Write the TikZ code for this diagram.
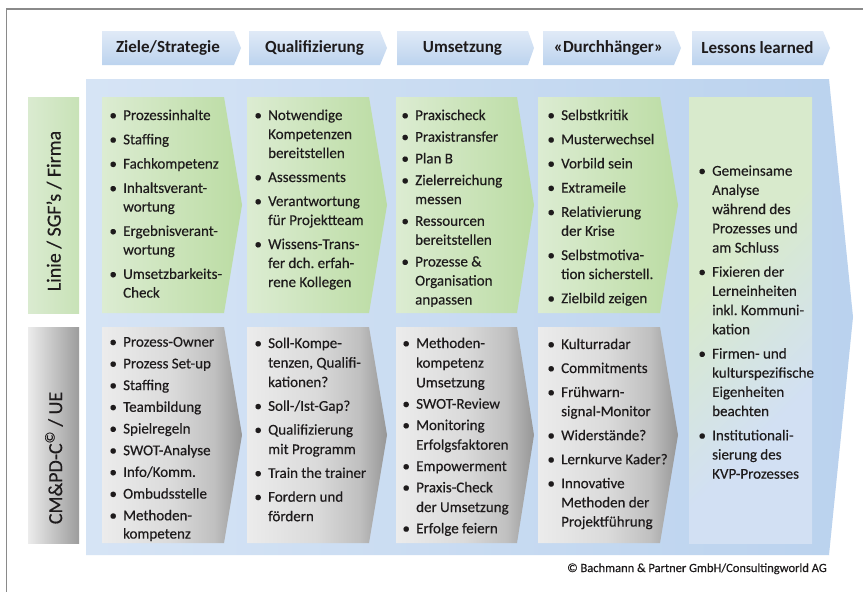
\documentclass[tikz,border=0pt]{standalone}
\usepackage{fontspec}
\setmainfont{Carlito}[UprightFeatures={FakeBold=0.35}]

\definecolor{txt}{RGB}{30,27,28}
\definecolor{frameg}{RGB}{138,138,138}
\definecolor{bgL}{RGB}{214,228,245}
\definecolor{bgR}{RGB}{186,210,238}
\definecolor{tabT}{RGB}{224,234,247}
\definecolor{tabB}{RGB}{188,211,238}
\definecolor{grL}{RGB}{220,236,210}
\definecolor{grR}{RGB}{187,220,163}
\definecolor{glL}{RGB}{218,235,208}
\definecolor{glR}{RGB}{200,226,183}
\definecolor{gyA}{RGB}{236,236,236}
\definecolor{gyB}{RGB}{218,218,218}
\definecolor{gyM}{RGB}{192,192,192}
\definecolor{gyC}{RGB}{150,150,150}
\definecolor{llG}{RGB}{216,234,204}
\definecolor{llB}{RGB}{210,224,243}

% grey boxes: light over most of the width, darkening towards the tip
\pgfdeclarehorizontalshading{grayfade}{100bp}{color(0bp)=(gyA); color(25bp)=(gyA);
  color(50bp)=(gyB); color(65bp)=(gyM); color(75bp)=(gyC); color(100bp)=(gyC)}
% closing column: green fading into light blue
\pgfdeclarehorizontalshading{llfade}{100bp}{color(0bp)=(llG); color(25bp)=(llG);
  color(40bp)=(llG); color(66bp)=(llB); color(100bp)=(llB)}

% one bullet item with hanging indent; \\ breaks the line inside the item
\newcommand{\itm}[1]{\hangindent=13pt\hangafter=1\noindent
  \makebox[13pt][l]{\hspace{3pt}\makebox[0pt]{\textbullet}}%
  \begingroup\let\\\newline#1\endgroup\par}
% chevron box: style, left x, shoulder x, tip x, top y, bottom y
\newcommand{\chev}[6]{\path[#1] (#2,#5) -- (#3,#5) -- (#4,{(#5+#6)/2}) -- (#3,#6) -- (#2,#6) -- cycle;}
% header tab: left x, shoulder x, tip x, node name, text
\newcommand{\tabbox}[5]{\path[tabshape] (#1,31) -- (#2,31) -- (#3,48) -- (#2,65) -- (#1,65) -- cycle;
  \node[hdr] (#4) at ({(#1+#2)/2},48) {#5};}

\frenchspacing
\begin{document}
\begin{tikzpicture}[x=1pt,y=-1pt,
  lst/.style 2 args={inner sep=0pt, anchor=base west, text width=165pt, text=txt,
    execute at begin node={\fontsize{15pt}{#2}\selectfont\setlength{\parskip}{#1}}},
  hdr/.style={font=\fontsize{17pt}{20pt}\selectfont\bfseries, text=txt, inner sep=0pt},
  rowlabel/.style={font=\fontsize{20pt}{24pt}\selectfont, text=txt, rotate=90, inner sep=0pt},
  tabshape/.style={top color=tabT, bottom color=tabB, draw=none},
  greenbox/.style={left color=grL, right color=grR, draw=none},
  greybox/.style={shading=grayfade, draw=none},
]
\useasboundingbox (0,0) rectangle (863,592);
\fill[white] (0,0) rectangle (863,592);

% frame
\draw[frameg, line width=1.4pt] (6.5,592) -- (6.5,9) -- (863,9);

% background arrow
\path[left color=bgL, right color=bgR] (86,79) -- (829,79) -- (853,317) -- (829,555) -- (86,555) -- cycle;

% phase tabs
\tabbox{102}{234}{241}{t1}{Ziele/Strategie}
\tabbox{249}{380}{387}{t2}{Qualifizierung}
\tabbox{397}{528}{534}{t3}{Umsetzung}
\tabbox{543}{674}{681}{t4}{«Durchhänger»}
\tabbox{692}{823}{830}{t5}{Lessons learned}

% row labels
\path[left color=glL, right color=glR] (28,97) rectangle (79,313);
\node[rowlabel] (lab1) at (54,211) {Linie / SGF’s / Firma};
\path[left color=gyA, right color=gyC!85!gyM] (28,327) rectangle (79,543);
\node[rowlabel] (lab2) at (54,458) {CM\&PD-C\textsuperscript{©} / UE};

% upper row
\chev{greenbox}{102}{224}{242}{97}{313}
\chev{greenbox}{247}{369}{387}{97}{313}
\chev{greenbox}{396}{517}{534}{97}{313}
\chev{greenbox}{538}{660}{678}{97}{313}
% lower row
\chev{greybox}{102}{224}{242}{327}{543}
\chev{greybox}{247}{369}{387}{327}{543}
\chev{greybox}{396}{517}{534}{327}{543}
\chev{greybox}{538}{660}{678}{327}{543}
% closing column
\path[shading=llfade, shading angle=-45] (689,97) rectangle (812,543);

% upper row texts
\node[lst={5.6pt}{18.7pt}] (g1) at (110,120) {%
\itm{Prozessinhalte}\itm{Staffing}\itm{Fachkompetenz}\itm{Inhaltsverant-\\wortung}%
\itm{Ergebnisverant-\\wortung}\itm{Umsetzbarkeits-\\Check}};
\node[lst={5pt}{19pt}] (g2) at (255,120) {%
\itm{Notwendige\\Kompetenzen\\bereitstellen}\itm{Assessments}\itm{Verantwortung\\für Projektteam}%
\itm{Wissens-Trans-\\fer dch. erfah-\\rene Kollegen}};
\node[lst={2.7pt}{19pt}] (g3) at (402,120) {%
\itm{Praxischeck}\itm{Praxistransfer}\itm{Plan B}\itm{Zielerreichung\\messen}%
\itm{Ressourcen\\bereitstellen}\itm{Prozesse \&\\Organisation\\anpassen}};
\node[lst={5.2pt}{19pt}] (g4) at (548,120) {%
\itm{Selbstkritik}\itm{Musterwechsel}\itm{Vorbild sein}\itm{Extrameile}%
\itm{Relativierung\\der Krise}\itm{Selbstmotiva-\\tion sicherstell.}\itm{Zielbild zeigen}};
\node[lst={5pt}{19.2pt}] (g5) at (699,175.7) {%
\itm{Gemeinsame\\Analyse\\während des\\Prozesses und\\am Schluss}%
\itm{Fixieren der\\Lerneinheiten\\inkl. Kommuni-\\kation}%
\itm{Firmen- und\\kulturspezifische\\Eigenheiten\\beachten}%
\itm{Institutionali-\\sierung des\\KVP-Prozesses}};

% lower row texts
\node[lst={3.4pt}{18.3pt}] (y1) at (110,346.7) {%
\itm{Prozess-Owner}\itm{Prozess Set-up}\itm{Staffing}\itm{Teambildung}\itm{Spielregeln}%
\itm{SWOT-Analyse}\itm{Info/Komm.}\itm{Ombudsstelle}\itm{Methoden-\\kompetenz}};
\node[lst={4.3pt}{19.5pt}] (y2) at (255,348) {%
\itm{Soll-Kompe-\\tenzen, Qualifi-\\kationen?}\itm{Soll-/Ist-Gap?}\itm{Qualifizierung\\mit Programm}%
\itm{Train the trainer}\itm{Fordern und\\fördern}};
\node[lst={1.6pt}{19.7pt}] (y3) at (403,348) {%
\itm{Methoden-\\kompetenz\\Umsetzung}\itm{SWOT-Review}\itm{Monitoring\\Erfolgsfaktoren}%
\itm{Empowerment}\itm{Praxis-Check\\der Umsetzung}\itm{Erfolge feiern}};
\node[lst={4.8pt}{19.2pt}] (y4) at (548,349) {%
\itm{Kulturradar}\itm{Commitments}\itm{Frühwarn-\\signal-Monitor}\itm{Widerstände?}%
\itm{Lernkurve Kader?}\itm{Innovative\\Methoden der\\Projektführung}};

% credit line
\node[font=\fontsize{12.5pt}{15pt}\selectfont, text=txt, anchor=base east, inner sep=0pt] (credit)
  at (827,572) {© Bachmann \& Partner GmbH/Consultingworld AG};
\end{tikzpicture}
\end{document}
